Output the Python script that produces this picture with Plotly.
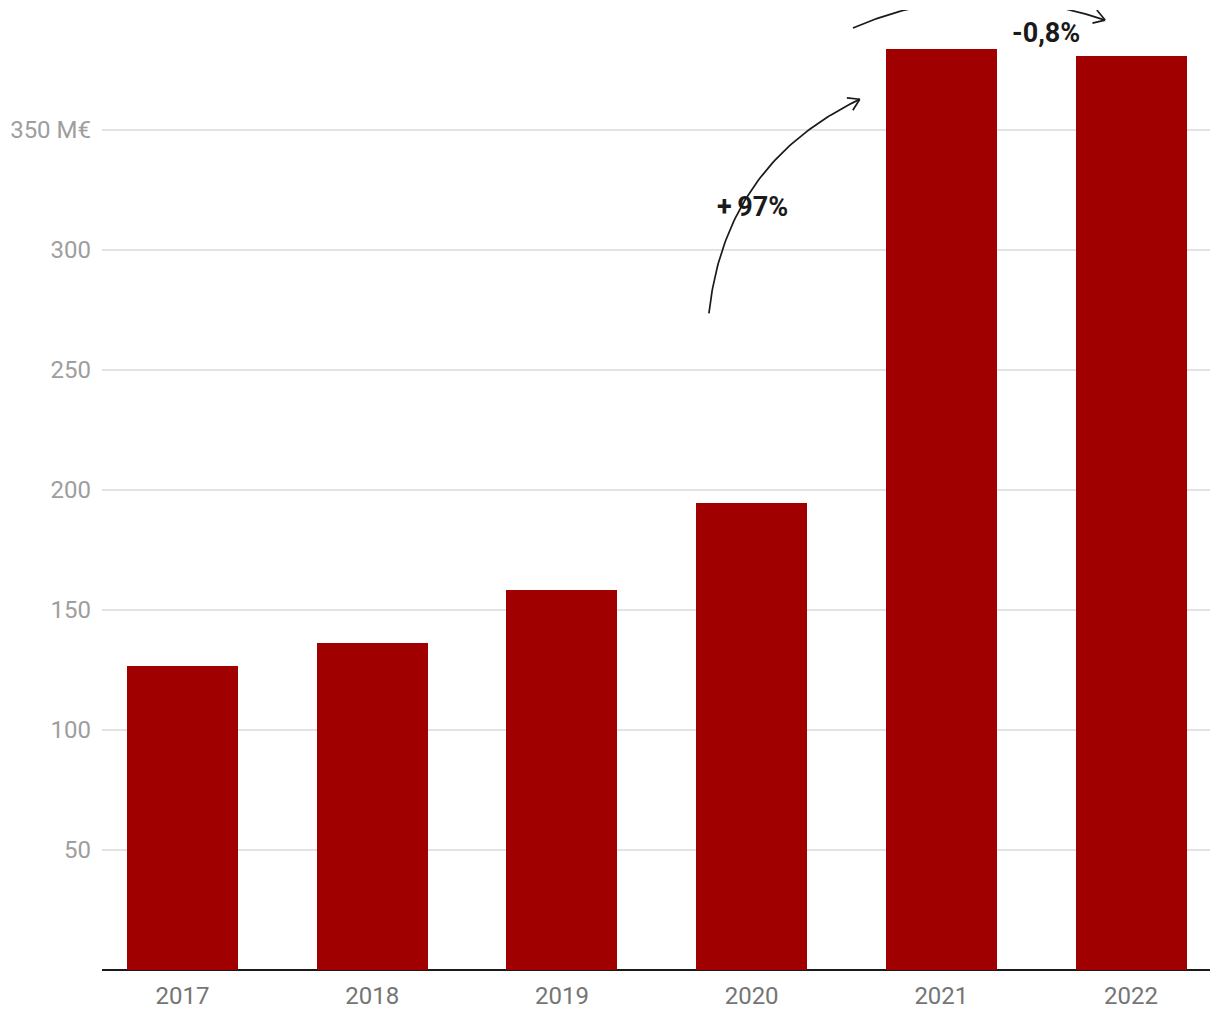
import numpy as np
import plotly.graph_objects as go

# ---- data ----
years = ["2017", "2018", "2019", "2020", "2021", "2022"]
values = [126.7, 136.3, 158.3, 194.6, 383.8, 380.8]
y_tickvals = [50, 100, 150, 200, 250, 300, 350]
y_ticktext = ["50", "100", "150", "200", "250", "300", "350 M€"]

BAR_COLOR = "#a00000"
W, H = 1212, 1012
ML, MR, MT, MB = 94, 10, 2, 50
X_RANGE = [-0.424, 5.416]
Y_RANGE = [0, 400]
px_x = (W - ML - MR) / (X_RANGE[1] - X_RANGE[0])
px_y = (H - MT - MB) / (Y_RANGE[1] - Y_RANGE[0])

fig = go.Figure()
fig.add_trace(go.Bar(x=list(range(len(years))), y=values, marker_color=BAR_COLOR,
                     marker_line_width=0, width=0.585, hoverinfo="skip"))


def bezier(p0, c, p2, n=80):
    t = np.linspace(0, 1, n)
    x = (1 - t) ** 2 * p0[0] + 2 * t * (1 - t) * c[0] + t ** 2 * p2[0]
    y = (1 - t) ** 2 * p0[1] + 2 * t * (1 - t) * c[1] + t ** 2 * p2[1]
    return x, y


def arrow(p0, c, p2):
    x, y = bezier(p0, c, p2)
    fig.add_trace(go.Scatter(x=x, y=y, mode="lines", line=dict(color="#1a1a1a", width=1.7),
                             hoverinfo="skip", showlegend=False))
    # chevron head in pixel space
    dx = (p2[0] - c[0]) * px_x
    dy = (p2[1] - c[1]) * px_y
    ang = np.arctan2(dy, dx)
    L = 13
    hx, hy = [], []
    for s in (1, -1):
        a = ang + np.pi - s * np.radians(32)
        hx += [p2[0] + L * np.cos(a) / px_x, p2[0], None]
        hy += [p2[1] + L * np.sin(a) / px_y, p2[1], None]
    fig.add_trace(go.Scatter(x=hx, y=hy, mode="lines", line=dict(color="#1a1a1a", width=1.7),
                             hoverinfo="skip", showlegend=False))


i20, i21, i22 = 3, 4, 5
v20, v21, v22 = values[i20], values[i21], values[i22]
arrow((i20 - 0.225, v20 + 79), (i20 - 0.14, v21 - 48), (i21 - 0.43, v21 - 21))
arrow((i21 - 0.466, v21 + 8.7), (i21 + 0.167, v21 + 30.5), (i22 - 0.137, v22 + 15))

pct1 = (v21 / v20 - 1) * 100
pct2 = (v22 / v21 - 1) * 100
lab1 = f"+\u2009{pct1:.0f}%"
lab2 = f"{pct2:.1f}%".replace(".", ",")

fig.add_annotation(x=i20 + 0.005, y=v20 + 123.5, text=f"<b>{lab1}</b>", showarrow=False,
                   font=dict(family="Roboto", size=27, color="#1a1a1a"))
fig.add_annotation(x=(i21 + i22) / 2 + 0.05, y=v21 + 6.5, text=f"<b>{lab2}</b>", showarrow=False,
                   font=dict(family="Roboto", size=27, color="#1a1a1a"))

fig.update_layout(
    width=W, height=H,
    margin=dict(l=ML, r=MR, t=MT, b=MB),
    paper_bgcolor="white", plot_bgcolor="white",
    showlegend=False,
    font=dict(family="Roboto"),
    bargap=0,
)
fig.update_xaxes(range=X_RANGE, tickvals=list(range(len(years))), ticktext=years,
                 showgrid=False, zeroline=False, showline=False, ticks="",
                 tickfont=dict(size=24, color="#757575"), ticklabelstandoff=9, fixedrange=True)
fig.update_yaxes(range=Y_RANGE, tickvals=y_tickvals, ticktext=y_ticktext,
                 showgrid=True, gridcolor="#e3e3e3", gridwidth=1.5,
                 zeroline=True, zerolinecolor="#1a1a1a", zerolinewidth=2,
                 showline=False, ticks="",
                 tickfont=dict(size=24, color="#9e9e9e"), ticklabelstandoff=10, fixedrange=True)

fig.write_html("out.html")
